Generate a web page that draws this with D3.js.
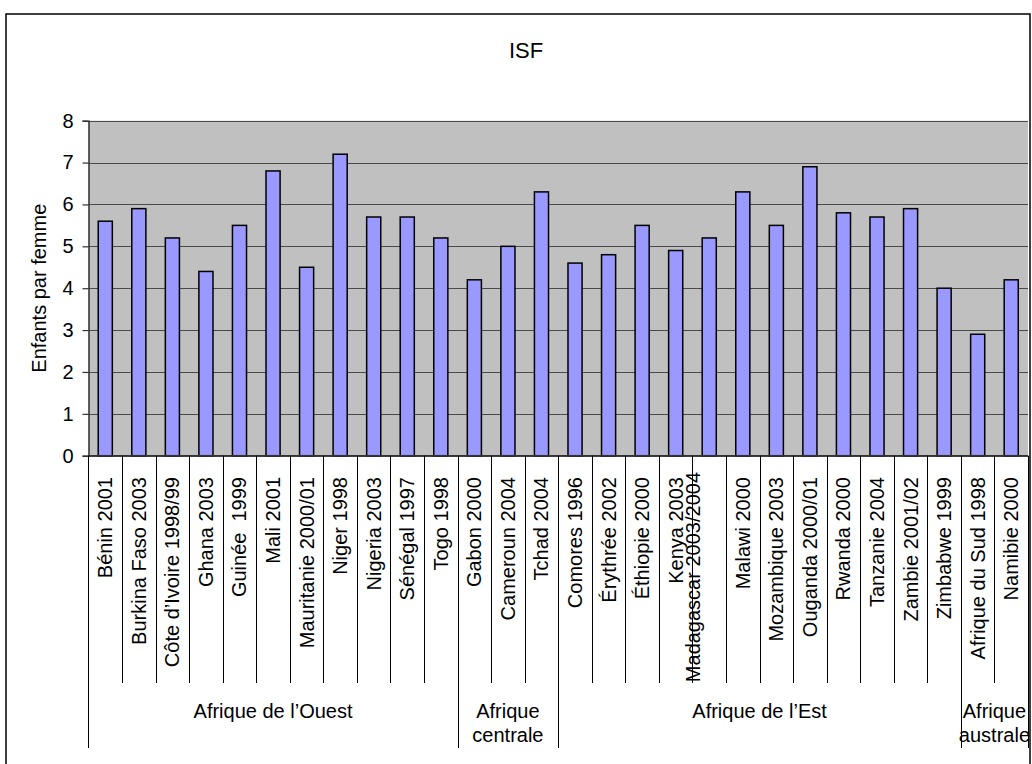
<!DOCTYPE html>
<html>
<head>
<meta charset="utf-8">
<script src="https://cdn.jsdelivr.net/npm/d3@7/dist/d3.min.js"></script>
<style>
  html, body { margin: 0; padding: 0; background: #fff; }
  svg { display: block; font-family: "Liberation Sans", Arial, sans-serif; }
  text { white-space: pre; }
</style>
</head>
<body>
<svg id="chart" width="1032" height="764"></svg>
<script>
const categories = [
  "Bénin 2001", "Burkina Faso 2003", "Côte d’Ivoire 1998/99", "Ghana 2003", "Guinée  1999",
  "Mali 2001", "Mauritanie 2000/01", "Niger 1998", "Nigeria 2003", "Sénégal 1997", "Togo 1998",
  "Gabon 2000", "Cameroun 2004", "Tchad 2004",
  "Comores 1996", "Érythrée 2002", "Éthiopie 2000", "Kenya 2003", "Madagascar 2003/2004",
  "Malawi 2000", "Mozambique 2003", "Ouganda 2000/01", "Rwanda 2000", "Tanzanie 2004",
  "Zambie 2001/02", "Zimbabwe 1999",
  "Afrique du Sud 1998", "Namibie 2000"
];
const values = [
  5.6, 5.9, 5.2, 4.4, 5.5, 6.8, 4.5, 7.2, 5.7, 5.7, 5.2,
  4.2, 5.0, 6.3,
  4.6, 4.8, 5.5, 4.9, 5.2, 6.3, 5.5, 6.9, 5.8, 5.7, 5.9, 4.0,
  2.9, 4.2
];
const groupLabels = [["Afrique de l’Ouest"], ["Afrique", "centrale"], ["Afrique de l’Est"], ["Afrique", "australe"]];
const groupCounts = [11, 3, 12, 2];
const yTicks = [0, 1, 2, 3, 4, 5, 6, 7, 8];
const titleText = "ISF";
const yTitle = "Enfants par femme";

(function () {
const svg = d3.select("#chart");
const pLeft = 88.5, pRight = 1028, pTop = 120.7, pBottom = 455.7;
const font = "20px";

// outer border
svg.append("rect").attr("x", 6).attr("y", 14).attr("width", 1024).attr("height", 760)
  .attr("fill", "#fff").attr("stroke", "#000").attr("stroke-width", 1.5);

const x = d3.scaleBand().domain(categories).range([pLeft, pRight]).paddingInner(0.58).paddingOuter(0.29);
const y = d3.scaleLinear().domain([0, 8]).range([pBottom, pTop]);

// plot area
svg.append("rect").attr("x", pLeft).attr("y", pTop).attr("width", pRight - pLeft).attr("height", pBottom - pTop)
  .attr("fill", "#C0C0C0");

// gridlines
svg.append("g").selectAll("line").data(yTicks).join("line")
  .attr("x1", pLeft).attr("x2", pRight)
  .attr("y1", d => Math.round(y(d)) + 0.5).attr("y2", d => Math.round(y(d)) + 0.5)
  .attr("stroke", "#4a4a4a").attr("stroke-width", 1.2);

// bars
svg.append("g").selectAll("rect").data(categories).join("rect")
  .attr("x", d => x(d))
  .attr("y", (d, i) => y(values[i]))
  .attr("width", x.bandwidth())
  .attr("height", (d, i) => y(0) - y(values[i]))
  .attr("fill", "#9999FF").attr("stroke", "#000").attr("stroke-width", 1.5);

// y axis
const yAxis = svg.append("g").attr("transform", `translate(${pLeft},0)`)
  .call(d3.axisLeft(y).tickValues(yTicks).tickSize(6).tickPadding(9).tickFormat(d3.format("d")));
yAxis.select(".domain").attr("stroke", "#333").attr("stroke-width", 1.5);
yAxis.selectAll(".tick line").attr("stroke", "#333").attr("stroke-width", 1.2);
yAxis.selectAll(".tick text").attr("font-size", font).attr("fill", "#000")
  .attr("font-family", "Liberation Sans, Arial, sans-serif");

// x axis baseline
svg.append("line").attr("x1", pLeft).attr("x2", pRight).attr("y1", pBottom).attr("y2", pBottom)
  .attr("stroke", "#333").attr("stroke-width", 1.5);

// category separators
const step = x.step();
const start = x(categories[0]) - (step - x.bandwidth()) / 2;
const groupStarts = [];
let acc = 0;
groupCounts.forEach(c => { groupStarts.push(acc); acc += c; });
const boundaries = d3.range(categories.length + 1);
svg.append("g").selectAll("line").data(boundaries).join("line")
  .attr("x1", i => Math.round(start + i * step) + 0.5)
  .attr("x2", i => Math.round(start + i * step) + 0.5)
  .attr("y1", pBottom)
  .attr("y2", i => (groupStarts.includes(i) || i === categories.length) ? 748 : 683)
  .attr("stroke", "#000").attr("stroke-width", 1);

// category labels
svg.append("g").selectAll("text").data(categories).join("text")
  .attr("transform", d => {
    const cx = x(d) + x.bandwidth() / 2 + (d.startsWith("Madagascar") ? -16 : 0);
    const ty = d.startsWith("Madagascar") ? 472 : 477;
    return `translate(${cx},${ty}) rotate(-90)`;
  })
  .attr("text-anchor", "end").attr("dy", "0.35em")
  .attr("font-size", font).attr("fill", "#000")
  .text(d => d);

// group labels
const gl = svg.append("g");
groupLabels.forEach((lines, gi) => {
  const s = groupStarts[gi];
  const cx = start + (s + groupCounts[gi] / 2) * step;
  const t = gl.append("text").attr("x", cx).attr("y", 718).attr("text-anchor", "middle")
    .attr("font-size", font).attr("fill", "#000");
  lines.forEach((ln, li) => {
    t.append("tspan").attr("x", cx).attr("dy", li === 0 ? 0 : 23.5).text(ln);
  });
});

// title
svg.append("text").attr("x", 526).attr("y", 58).attr("text-anchor", "middle")
  .attr("font-size", "22px").attr("fill", "#000").text(titleText);

// y axis title
svg.append("text").attr("transform", `translate(46,${(pTop + pBottom) / 2}) rotate(-90)`)
  .attr("text-anchor", "middle").attr("font-size", font).attr("fill", "#000").text(yTitle);
})();
</script>
</body>
</html>
